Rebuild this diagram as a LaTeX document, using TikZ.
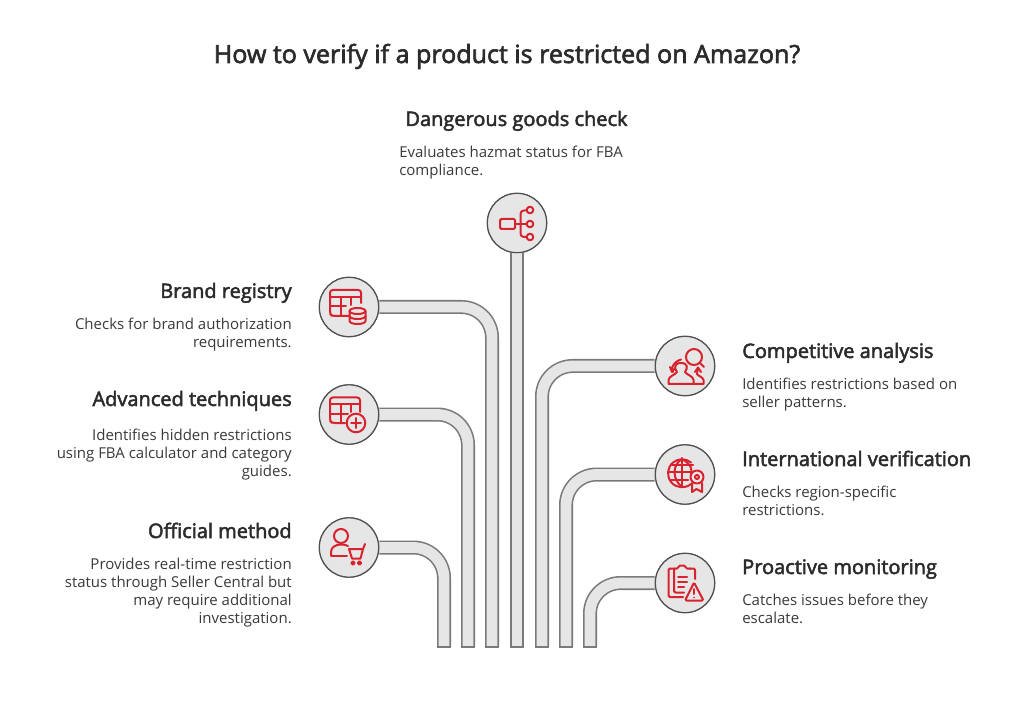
\documentclass[tikz,border=0pt]{standalone}
\usepackage{fontspec}
\setmainfont{Open Sans}
\newfontfamily\headfont{Open Sans}[FakeBold=2.5]
\definecolor{tubefill}{HTML}{E6E6E6}
\definecolor{tubeline}{HTML}{7A7A7A}
\definecolor{ringline}{HTML}{505050}
\definecolor{iconred}{HTML}{D8232F}
\definecolor{inkdark}{HTML}{2B2B2B}
\definecolor{inkbody}{HTML}{3A3A3A}
\begin{document}
\begin{tikzpicture}[x=0.75pt,y=-0.75pt,
  tube/.style={draw=tubeline,line width=1.2pt,double=tubefill,double distance=8.1pt,rounded corners=23pt},
  tubeend/.style={draw=tubeline,line width=1.2pt},
  ring/.style={circle,draw=ringline,fill=tubefill,line width=0.9pt,minimum size=44.5pt,inner sep=0pt},
  icon/.style={draw=iconred,line width=1.5pt,line cap=round,line join=round},
  headR/.style={font=\headfont\fontsize{15}{18}\selectfont,text=inkdark,anchor=base west,inner sep=0pt},
  headL/.style={font=\headfont\fontsize{15}{18}\selectfont,text=inkdark,anchor=base east,inner sep=0pt},
  descR/.style={font=\fontsize{11.25}{13.5}\selectfont,text=inkbody,anchor=north west,align=left,inner sep=0pt},
  descL/.style={font=\fontsize{11.25}{13.5}\selectfont,text=inkbody,anchor=north east,align=right,inner sep=0pt}]
\useasboundingbox (0,0) rectangle (1034,705);
\fill[white] (0,0) rectangle (1034,705);
\node[font=\headfont\fontsize{18.8}{22}\selectfont,text=inkdark,anchor=base,inner sep=0pt] (title) at (507,63) {How to verify if a product is restricted on Amazon?};
% ends of the tubes
\coordinate (b1) at (444,647);
\coordinate (b2) at (468,647);
\coordinate (b3) at (492,647);
\coordinate (b4) at (517,647);
\coordinate (b5) at (542,647);
\coordinate (b6) at (566,647);
\coordinate (b7) at (590,647);
% circles (placed first so connectors can name them)
\node[ring] (danger) at (517,223) {};
\node[ring] (brand) at (349,307) {};
\node[ring] (adv) at (349,414.5) {};
\node[ring] (off) at (349,547.5) {};
\node[ring] (comp) at (685,366) {};
\node[ring] (intl) at (685,474.5) {};
\node[ring] (pro) at (685,583) {};
% tubes
\draw[tube] (b1) |- (off);
\draw[tube] (b2) |- (adv);
\draw[tube] (b3) |- (brand);
\draw[tube] (b4) -- (danger);
\draw[tube] (b5) |- (comp);
\draw[tube] (b6) |- (intl);
\draw[tube] (b7) |- (pro);
\foreach \e in {b1,b2,b3,b4,b5,b6,b7}
  \draw[tubeend] ([xshift=-5.1pt]\e) -- ([xshift=5.1pt]\e);
% circles on top of the tube ends
\node[ring] at (danger) {};
\node[ring] at (brand) {};
\node[ring] at (adv) {};
\node[ring] at (off) {};
\node[ring] at (comp) {};
\node[ring] at (intl) {};
\node[ring] at (pro) {};
% --- dangerous goods icon
\draw[icon,rounded corners=1pt] (500,219) rectangle (515,229);
\draw[icon] (515,224) -- (526.5,224);
\draw[icon,rounded corners=2.5pt] (526.5,210.5) -- (520.5,210.5) -- (520.5,237) -- (526.5,237);
\draw[icon] (530,210) circle[radius=3.3] (530,224) circle[radius=3.3] (530,237) circle[radius=3.3];
% --- brand icon
\draw[icon,rounded corners=2pt] (349,316) -- (332,316) -- (330,314) -- (330,290) -- (361,290) -- (361,303);
\draw[icon] (330,297) -- (361,297) (330,306) -- (346,306) (341,297) -- (341,316) (351,297) -- (351,305);
\draw[icon] (349.5,311) -- (349.5,321) arc[start angle=180,end angle=0,x radius=8,y radius=3] -- (365.5,311);
\draw[icon] (357.5,311) ellipse[x radius=8,y radius=3];
\draw[icon] (349.5,316) arc[start angle=180,end angle=0,x radius=8,y radius=3];
% --- advanced icon
\draw[icon,rounded corners=2pt] (345,423) -- (332,423) -- (330,421) -- (330,397.5) -- (360,397.5) -- (360,412);
\draw[icon] (330,404.5) -- (360,404.5) (330,414) -- (348,414) (341,404.5) -- (341,423) (351,404.5) -- (351,412);
\draw[icon] (356,423) circle[radius=9.3];
\draw[icon] (356,418) -- (356,428) (351,423) -- (361,423);
% --- official icon
\draw[icon] (341,536) circle[radius=7];
\draw[icon] (331,555.5) -- (331,552) .. controls (331,547) and (336,544.5) .. (341,544.5) .. controls (344,544.5) and (346,545) .. (348,546);
\draw[icon] (331,555.5) -- (347,555.5);
\draw[icon] (349,549) -- (363,549) -- (360.5,558.5) -- (352,558.5) -- cycle;
\draw[icon] (363,549) -- (365,544);
\draw[icon] (353,563) circle[radius=1.6] (359.5,563) circle[radius=1.6];
% --- competitive icon
\draw[icon] (694,357) circle[radius=8];
\draw[icon] (700,363) -- (704,367);
\draw[icon] (668.5,384) -- (668.5,380) .. controls (669,376) and (675,375) .. (677,372) .. controls (674,368) and (674,363) .. (681,363) .. controls (688,363) and (688,368) .. (685,372) .. controls (687,375) and (693,376) .. (693.5,380) -- (693.5,384) -- cycle;
\draw[icon] (693.5,384) -- (703.5,384) -- (703.5,380) .. controls (703,377) and (698,376) .. (697,374) -- (698,368);
\draw[icon] (695,372) -- (698,367.5) -- (701,372);
\draw[icon] (673,372) .. controls (670,372) and (672,362) .. (681,359.5);
\draw[icon] (670,367) -- (672,372) -- (675,368);
% --- international icon
\draw[icon] (691,484) arc[start angle=50,end angle=310,radius=14] ;
\draw[icon] (682,458) -- (682,486);
\draw[icon] (682,459) .. controls (672,465) and (672,479) .. (682,487);
\draw[icon] (682,459) .. controls (692,465) and (692,470) .. (691,473);
\draw[icon] (668,472) -- (691,472) (671,465) -- (693,465) (671,480) -- (688,480);
\draw[icon] (697,477) circle[radius=6.5];
\draw[icon] (697,477) circle[radius=2];
\draw[icon] (692,483) -- (692,492) -- (696.5,489) -- (702,492) -- (702,483);
% --- proactive icon
\draw[icon,rounded corners=1pt] (683,597) -- (668.5,597) -- (668.5,568.5) -- (675,568.5) (689,568.5) -- (695,568.5) -- (695,579);
\draw[icon,rounded corners=1pt] (674,568.5) -- (674,592.5) -- (684,592.5);
\draw[icon] (675,568.5) -- (677,568.5) -- (680,565.5) -- (684,565.5) -- (687,568.5) -- (690,568.5);
\draw[icon] (678,577) -- (687,577) (678,582) -- (687,582) (678,587) -- (684,587);
\draw[icon,rounded corners=1pt] (694,582.5) -- (703.5,600.5) -- (685,600.5) -- cycle;
\draw[icon] (694,589) -- (694,594);
\fill[iconred] (694,597.5) circle[radius=0.9];
% --- texts
\node[headR,anchor=base] (t1) at (516.5,126) {Dangerous goods check};
\node[descR] (d1) at (399,145.5) {Evaluates hazmat status for FBA\\compliance.};
\node[headL] (t2) at (292,298) {Brand registry};
\node[descL] (d2) at (292,317.5) {Checks for brand authorization\\requirements.};
\node[headL] (t3) at (292,406) {Advanced techniques};
\node[descL] (d3) at (292,428.5) {Identifies hidden restrictions\\using FBA calculator and category\\guides.};
\node[headL] (t4) at (292,538) {Official method};
\node[descL] (d4) at (292,557.5) {Provides real-time restriction\\status through Seller Central but\\may require additional\\investigation.};
\node[headR] (t5) at (742,358) {Competitive analysis};
\node[descR] (d5) at (742,377.5) {Identifies restrictions based on\\seller patterns.};
\node[headR] (t6) at (742,466) {International verification};
\node[descR] (d6) at (742,485.5) {Checks region-specific\\restrictions.};
\node[headR] (t7) at (742,574) {Proactive monitoring};
\node[descR] (d7) at (742,593.5) {Catches issues before they\\escalate.};
\end{tikzpicture}
\end{document}
